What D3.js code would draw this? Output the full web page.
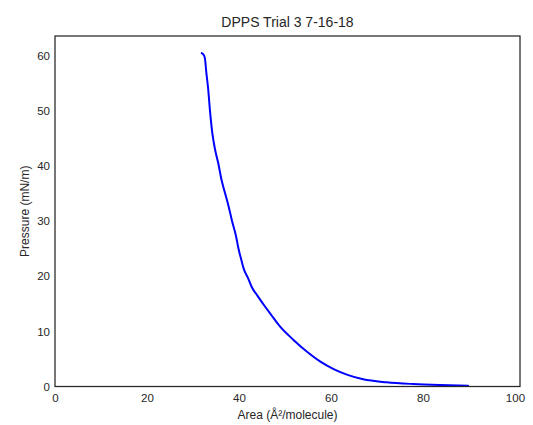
<!DOCTYPE html>
<html><head><meta charset="utf-8">
<script src="https://cdn.jsdelivr.net/npm/d3@7"></script>
<style>body{margin:0;background:#fff;} svg{display:block;}</style>
</head><body>
<svg id="c" width="533" height="425"></svg>
<script>
const title = "DPPS Trial 3 7-16-18";
const xLabel = "Area (Å²/molecule)";
const yLabel = "Pressure (mN/m)";
const xTicks = [0, 20, 40, 60, 80, 100];
const yTicks = [0, 10, 20, 30, 40, 50, 60];
const area = [31.9, 32.3, 32.6, 32.9, 33.3, 33.7, 34.2, 34.8, 35.5, 36.2, 37.0, 37.8, 38.5, 39.3, 39.9, 40.5, 41.1, 41.9, 42.8, 44.0, 45.5, 47.0, 48.9, 51.8, 54.8, 57.7, 60.7, 63.6, 67.0, 72.1, 77.9, 83.7, 89.8];
const pressure = [60.5, 60.2, 59.5, 57.0, 54.0, 50.0, 46.0, 43.0, 40.5, 37.5, 35.0, 32.5, 30.0, 27.5, 25.0, 23.0, 21.2, 19.8, 18.0, 16.5, 14.7, 13.0, 10.9, 8.5, 6.3, 4.5, 3.1, 2.1, 1.3, 0.76, 0.45, 0.27, 0.15];

const L = 55, R = 520, T = 36, B = 386.5;
const svg = d3.select("#c");
const x = d3.scaleLinear().domain([0, 101.1]).range([L, R]);
const y = d3.scaleLinear().domain([0, 63.6]).range([B, T]);
const font = "'Liberation Sans', Arial, sans-serif";
const ink = "#262626";

const pts = area.map((a, i) => [a, pressure[i]]);
svg.append("path").datum(pts)
  .attr("fill", "none").attr("stroke", "#0000ff").attr("stroke-width", 2)
  .attr("stroke-linejoin", "round").attr("stroke-linecap", "round")
  .attr("d", d3.line().x(d => x(d[0])).y(d => y(d[1])).curve(d3.curveMonotoneX));

const xa = svg.append("g").attr("transform", `translate(0,${B})`)
  .call(d3.axisBottom(x).tickValues(xTicks).tickSize(0).tickPadding(7).tickFormat(d3.format("d")));
const ya = svg.append("g").attr("transform", `translate(${L},0)`)
  .call(d3.axisLeft(y).tickValues(yTicks).tickSize(0).tickPadding(5).tickFormat(d3.format("d")));
[xa, ya].forEach(g => {
  g.select(".domain").remove();
  g.selectAll("text").attr("font-family", font).attr("font-size", 11.5).attr("fill", ink);
});

svg.append("rect").attr("x", L).attr("y", T).attr("width", R - L).attr("height", B - T)
  .attr("fill", "none").attr("stroke", ink).attr("stroke-width", 1.25);

svg.append("text").attr("x", (L + R) / 2).attr("y", 27).attr("text-anchor", "middle")
  .attr("font-family", font).attr("font-size", 14).attr("fill", ink).text(title);
svg.append("text").attr("x", (L + R) / 2).attr("y", 419).attr("text-anchor", "middle")
  .attr("font-family", font).attr("font-size", 12).attr("fill", ink).text(xLabel);
svg.append("text").attr("transform", `translate(29,${(T + B) / 2}) rotate(-90)`).attr("text-anchor", "middle")
  .attr("font-family", font).attr("font-size", 12).attr("fill", ink).text(yLabel);
</script>
</body></html>
